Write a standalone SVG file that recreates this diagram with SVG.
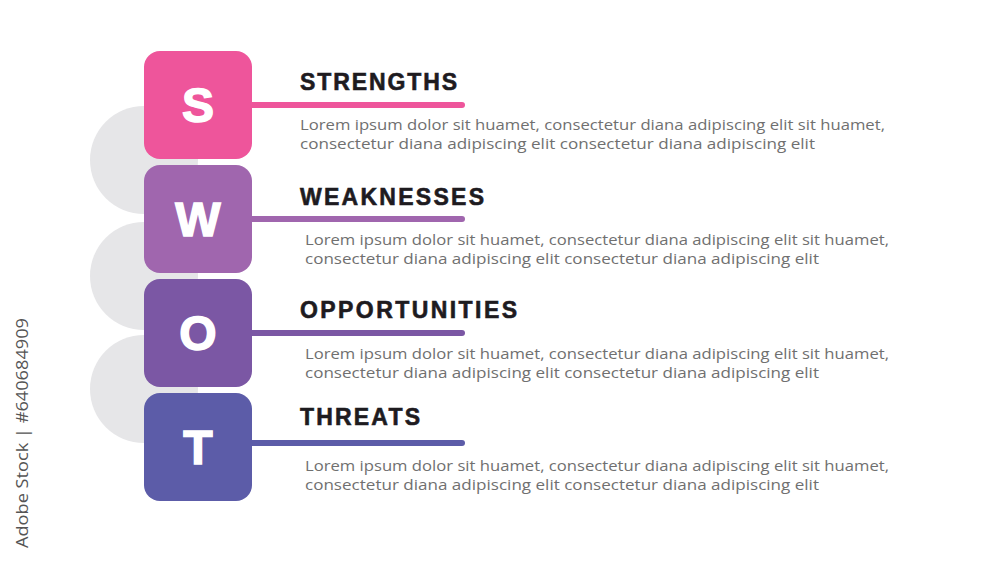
<svg xmlns="http://www.w3.org/2000/svg" width="1000" height="563" viewBox="0 0 1000 563">
<style>
.bg{fill:#ffffff}
.circ{fill:#e6e6e8}
.letter{font-family:"Liberation Sans",Arial,sans-serif;font-weight:bold;font-size:48px;fill:#ffffff;stroke:#ffffff;stroke-width:1.5;text-anchor:middle}
.title{font-family:"Liberation Sans",Arial,sans-serif;font-weight:bold;font-size:23px;fill:#1e1b1f;stroke:#1e1b1f;stroke-width:0.6}
.body{font-family:"Open Sans","Liberation Sans",sans-serif;font-size:15px;fill:#707070}
.wm{font-family:"Open Sans","Liberation Sans",sans-serif;font-size:17px;fill:#555555}
.ln{stroke-width:6;stroke-linecap:round;fill:none}
</style>
<rect class="bg" x="0" y="0" width="1000" height="563"/>
<g id="circles">
<circle class="circ" cx="144" cy="160" r="54"/>
<circle class="circ" cx="144" cy="276" r="54"/>
<circle class="circ" cx="144" cy="389" r="54"/>
</g>
<g id="connectors">
<line class="ln" x1="250" y1="105" x2="462" y2="105" stroke="#ee559b"/>
<line class="ln" x1="250" y1="219" x2="462" y2="219" stroke="#a066ae"/>
<line class="ln" x1="250" y1="333" x2="462" y2="333" stroke="#7b57a4"/>
<line class="ln" x1="250" y1="443" x2="462" y2="443" stroke="#5c5ca8"/>
</g>
<g id="node-s">
<rect x="144" y="51" width="108" height="108" rx="16" fill="#ee559b"/>
<text class="letter" x="198" y="122">S</text>
<text class="title" x="300" y="90" textLength="157" lengthAdjust="spacing">STRENGTHS</text>
<text class="body" x="300" y="130" textLength="585" lengthAdjust="spacingAndGlyphs">Lorem ipsum dolor sit huamet, consectetur diana adipiscing elit sit huamet,</text>
<text class="body" x="300" y="149" textLength="515" lengthAdjust="spacingAndGlyphs">consectetur diana adipiscing elit consectetur diana adipiscing elit</text>
</g>
<g id="node-w">
<rect x="144" y="165" width="108" height="108" rx="16" fill="#a066ae"/>
<text class="letter" x="198" y="236">W</text>
<text class="title" x="300" y="205" textLength="184" lengthAdjust="spacing">WEAKNESSES</text>
<text class="body" x="305" y="245" textLength="584" lengthAdjust="spacingAndGlyphs">Lorem ipsum dolor sit huamet, consectetur diana adipiscing elit sit huamet,</text>
<text class="body" x="305" y="264" textLength="514" lengthAdjust="spacingAndGlyphs">consectetur diana adipiscing elit consectetur diana adipiscing elit</text>
</g>
<g id="node-o">
<rect x="144" y="279" width="108" height="108" rx="16" fill="#7b57a4"/>
<text class="letter" x="198" y="350">O</text>
<text class="title" x="300" y="318" textLength="217" lengthAdjust="spacing">OPPORTUNITIES</text>
<text class="body" x="305" y="359" textLength="584" lengthAdjust="spacingAndGlyphs">Lorem ipsum dolor sit huamet, consectetur diana adipiscing elit sit huamet,</text>
<text class="body" x="305" y="378" textLength="514" lengthAdjust="spacingAndGlyphs">consectetur diana adipiscing elit consectetur diana adipiscing elit</text>
</g>
<g id="node-t">
<rect x="144" y="393" width="108" height="108" rx="16" fill="#5c5ca8"/>
<text class="letter" x="198" y="464">T</text>
<text class="title" x="300" y="425" textLength="120" lengthAdjust="spacing">THREATS</text>
<text class="body" x="305" y="471" textLength="584" lengthAdjust="spacingAndGlyphs">Lorem ipsum dolor sit huamet, consectetur diana adipiscing elit sit huamet,</text>
<text class="body" x="305" y="490" textLength="514" lengthAdjust="spacingAndGlyphs">consectetur diana adipiscing elit consectetur diana adipiscing elit</text>
</g>
<text class="wm" transform="translate(28,548) rotate(-90)" textLength="230" lengthAdjust="spacingAndGlyphs">Adobe Stock | #640684909</text>
</svg>
